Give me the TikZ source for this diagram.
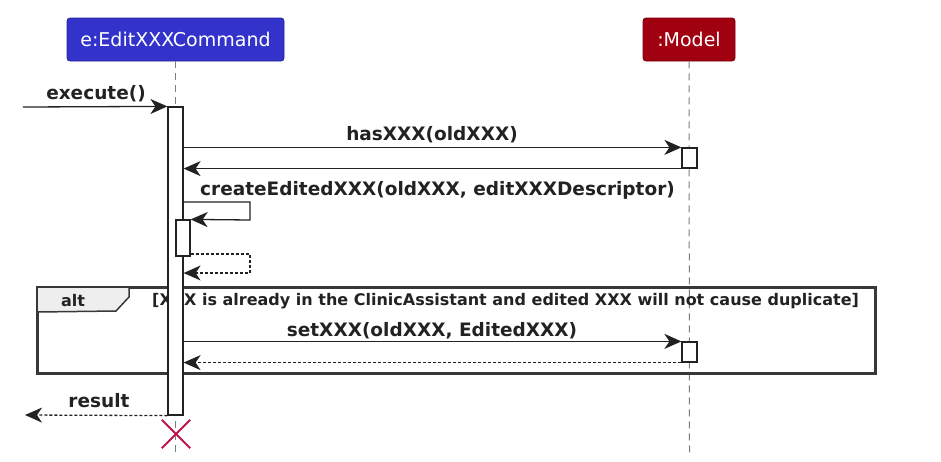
\documentclass[tikz,border=0pt]{standalone}
\usepackage{fontspec}
\setmainfont{DejaVu Sans}
\usetikzlibrary{arrows.meta}
\definecolor{partblue}{RGB}{51,51,204}
\definecolor{partred}{RGB}{160,0,16}
\definecolor{linec}{RGB}{34,34,34}
\definecolor{xred}{RGB}{190,20,70}
\definecolor{framefill}{RGB}{238,238,238}
\definecolor{lifec}{RGB}{125,125,125}
\begin{document}
\begin{tikzpicture}[x=1pt,y=-1pt,
  participant/.style={draw=#1!75!black, fill=#1, rounded corners=3pt, text=white,
    font=\fontsize{19}{22}\selectfont, minimum height=43pt, inner sep=0pt, line width=0.8pt},
  life/.style={draw=lifec, dash pattern=on 7pt off 5pt, line width=1pt},
  act/.style={draw=linec, fill=white, line width=1.2pt, inner sep=0pt},
  msg/.style={draw=linec, line width=1.3pt, -{Stealth[length=17pt,width=15pt,inset=5pt]}},
  ret/.style={msg, dash pattern=on 3pt off 2pt},
  lbl/.style={font=\bfseries\fontsize{18.5}{21}\selectfont, text=linec, inner sep=0pt, anchor=base},
  cond/.style={font=\bfseries\fontsize{16}{19}\selectfont, text=linec, inner sep=0pt, anchor=base west},
]
\useasboundingbox (0,0) rectangle (941,461);

% participants
\node[participant=partblue, minimum width=217pt] (cmd) at (175.5,39.5) {e:EditXXXCommand};
\node[participant=partred, minimum width=92pt] (model) at (689,39.5) {:Model};

% lifelines
\coordinate (cmdend) at (175.5,456);
\coordinate (modelend) at (689.5,456);
\draw[life] (cmd.south) -- (cmdend);
\draw[life] (model.south) -- (modelend);

% alt frame
\node[draw=linec!90, line width=2pt, minimum width=837pt, minimum height=85pt, inner sep=0pt] (altframe) at (456.5,330.5) {};
\draw[draw=linec!90, fill=framefill, line width=1.5pt]
  (altframe.north west) -- ++(92,0) -- ++(0,10) -- ++(-13,14) -- (altframe.north west |- 0,312) -- cycle;
\draw[draw=linec!90, line width=2pt] (altframe.north west) rectangle (altframe.south east);
\node[font=\bfseries\fontsize{16}{18}\selectfont, text=linec, inner sep=0pt, anchor=base] (alttag) at (73,306) {alt};
\node[cond] (guard) at (152,305.5) {[XXX is already in the ClinicAssistant and edited XXX will not cause duplicate]};

% activations
\node[act, minimum width=15pt, minimum height=308pt] (a1) at (175.5,261) {};
\node[act, minimum width=14pt, minimum height=36pt] (a2) at (183,238) {};
\node[act, minimum width=15pt, minimum height=20pt] (m1) at (689.5,158) {};
\node[act, minimum width=15pt, minimum height=20pt] (m2) at (689.5,352) {};

% execute()
\coordinate (ext) at (23,107);
\draw[msg] (ext) -- (a1.north west);
\node[lbl] (lexec) at (96,99) {execute()};

% hasXXX
\draw[msg] (a1.east |- m1.north) -- (m1.north west);
\node[lbl] (lhas) at (432,140) {hasXXX(oldXXX)};
\draw[msg] (m1.south west) -- (a1.east |- m1.south);

% createEditedXXX self call
\coordinate (sc1) at (250,202);
\coordinate (sc2) at (250,220);
\draw[msg] (a1.east |- sc1) -- (sc1) -- (sc2) -- (a2.north east);
\node[lbl, anchor=base west] (lcreate) at (200,195.5) {createEditedXXX(oldXXX, editXXXDescriptor)};
\coordinate (sr1) at (250,254);
\coordinate (sr2) at (250,273);
\draw[ret] (a2.east |- sr1) -- (sr1) -- (sr2) -- (a1.east |- sr2);

% setXXX
\draw[msg] (a1.east |- m2.north) -- (m2.north west);
\node[lbl] (lset) at (432,336) {setXXX(oldXXX, EditedXXX)};
\draw[ret] (m2.south west) -- (a1.east |- m2.south);

% result
\coordinate (resend) at (25,415);
\draw[ret] (a1.south west) -- (resend);
\node[lbl] (lres) at (99,407) {result};

% destroy
\node[minimum size=28pt, inner sep=0pt] (destroy) at (176,434) {};
\draw[xred, line width=2pt] (destroy.north west) -- (destroy.south east)
  (destroy.south west) -- (destroy.north east);
\end{tikzpicture}
\end{document}
